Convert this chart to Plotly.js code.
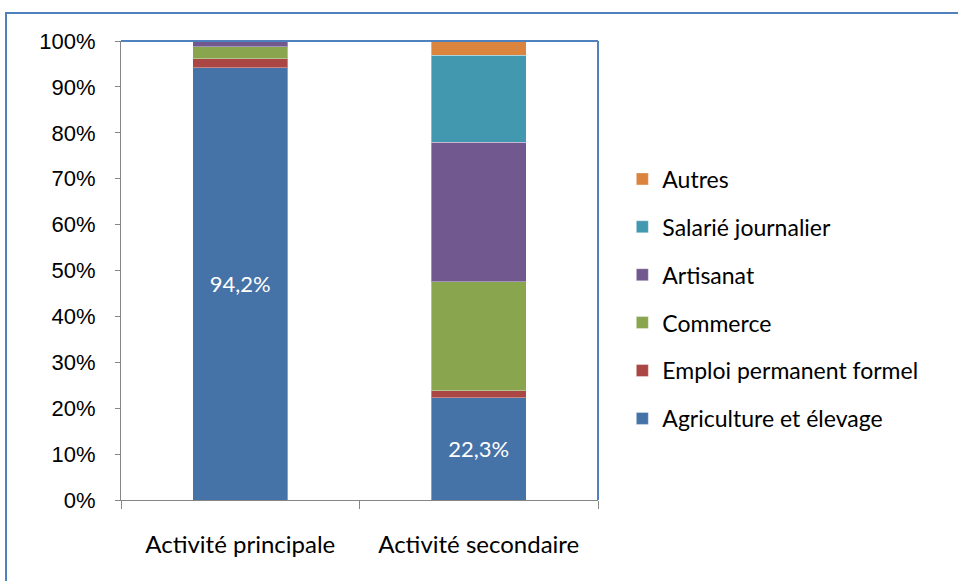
<!DOCTYPE html>
<html>
<head>
<meta charset="utf-8">
<script src="https://cdn.plot.ly/plotly-3.0.1.min.js"></script>
<style>
  body { margin: 0; background: #fff; }
  #frame { position: absolute; left: 5px; top: 12px; width: 1000px; height: 620px;
           border-left: 2px solid #4F81BD; border-top: 2px solid #4F81BD; }
  #chart { position: absolute; left: 0; top: 0; width: 958px; height: 581px; }
</style>
</head>
<body>
<div id="frame"></div>
<div id="chart"></div>
<script>
// categories and stacked shares (percent)
var categories = ['Activité principale', 'Activité secondaire'];
var agriculture = [94.2, 22.3];
var emploi = [1.9, 1.5];
var commerce = [2.6, 23.8];
var artisanat = [1.3, 30.3];
var salarie = [0.0, 19.0];
var autres = [0.0, 3.1];

var seriesNames = ['Agriculture et élevage', 'Emploi permanent formel', 'Commerce',
    'Artisanat', 'Salarié journalier', 'Autres'];
var seriesValues = [agriculture, emploi, commerce, artisanat, salarie, autres];
var seriesColors = ['#4572A7', '#AA4643', '#89A54E', '#71588F', '#4198AF', '#DB843D'];

var data = seriesValues.map(function (vals, i) {
    var tr = {
        name: seriesNames[i],
        type: 'bar',
        x: categories,
        y: vals,
        width: 0.4,
        legendgroup: 'g' + i,
        legendrank: 100 - i,
        marker: {
            color: seriesColors[i],
            line: { color: 'rgba(255,255,255,0.35)', width: 1 }
        },
        hoverinfo: 'none'
    };
    if (i === 0) {
        tr.text = vals.map(v => v.toFixed(1).replace('.', ',') + '%');
        tr.textposition = 'inside';
        tr.insidetextanchor = 'middle';
        tr.textfont = { family: 'Lato, sans-serif', size: 22, color: '#ffffff' };
    }
    return tr;
});

var layout = {
    width: 958,
    height: 581,
    barmode: 'stack',
    paper_bgcolor: 'rgba(0,0,0,0)',
    plot_bgcolor: 'rgba(0,0,0,0)',
    margin: { l: 121, r: 360, t: 41, b: 81, pad: 0 },
    showlegend: true,
    legend: {
        x: 1.051, y: 0.438, xanchor: 'left', yanchor: 'middle',
        traceorder: 'grouped',
        tracegroupgap: 15,
        font: { family: 'Lato, sans-serif', size: 23, color: '#000' },
        itemwidth: 30
    },
    xaxis: {
        type: 'category',
        range: [-0.5, 1.5],
        tickson: 'boundaries',
        ticks: 'outside',
        ticklen: 8,
        tickcolor: '#868686',
        linecolor: '#868686',
        linewidth: 1,
        showline: true,
        showgrid: false,
        ticklabelstandoff: 23,
        tickfont: { family: 'Lato, sans-serif', size: 24, color: '#000' }
    },
    yaxis: {
        range: [0, 100],
        tickvals: [0, 10, 20, 30, 40, 50, 60, 70, 80, 90, 100],
        ticktext: ['0%', '10%', '20%', '30%', '40%', '50%', '60%', '70%', '80%', '90%', '100%'],
        ticks: 'outside',
        ticklen: 5,
        tickcolor: '#868686',
        linecolor: '#868686',
        linewidth: 1,
        showline: true,
        showgrid: false,
        zeroline: false,
        ticklabelstandoff: 15,
        tickfont: { family: 'Liberation Sans, Arial, sans-serif', size: 22, color: '#000' }
    },
    shapes: [
        // plot area border (top and right)
        { type: 'line', xref: 'paper', yref: 'paper', x0: 0, x1: 1, y0: 1, y1: 1,
          line: { color: '#4F81BD', width: 2 } },
        { type: 'line', xref: 'paper', yref: 'paper', x0: 1, x1: 1, y0: 0, y1: 1,
          line: { color: '#4F81BD', width: 2 } }
    ]
};

Plotly.newPlot('chart', data, layout, { displayModeBar: false, staticPlot: true });
</script>
</body>
</html>
